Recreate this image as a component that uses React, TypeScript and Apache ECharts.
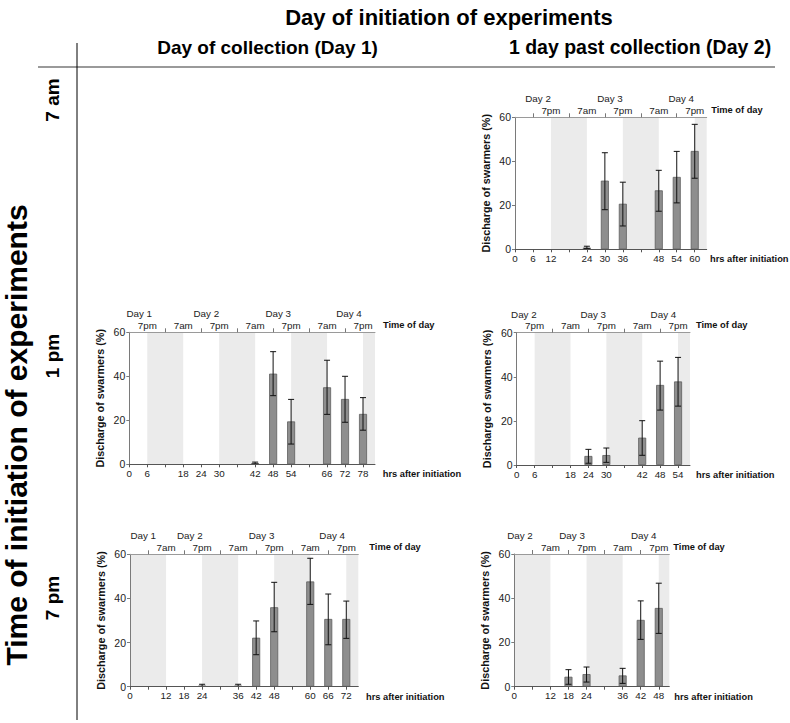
import React, { useEffect, useRef } from 'react';
import * as echarts from 'echarts';

// ---------- DATA ----------
// Panel A: 7 am, 1 day past collection (Day 2)
const hoursA = [0, 6, 12, 24, 30, 36, 48, 54, 60];
const meanA = [0, 0, 0, 0.8, 31.2, 20.7, 26.8, 32.9, 44.7];
const lowA = [0, 0, 0, 0.3, 18.0, 10.6, 17.3, 21.1, 32.3];
const highA = [0, 0, 0, 1.4, 43.9, 30.5, 35.9, 44.5, 56.8];
const nightsA = [[12, 24], [36, 48], [60, 64]];
const timeHoursA = [12, 24, 36, 48, 60];
const timeTextA = ['7pm', '7am', '7pm', '7am', '7pm'];
const dayHoursA = [7.7, 31.7, 55.5];
const dayTextA = ['Day 2', 'Day 3', 'Day 4'];
const topTicksA = [6, 18, 30, 42, 54];

// Panel B: 1 pm, Day of collection (Day 1)
const hoursB = [0, 6, 18, 24, 30, 42, 48, 54, 66, 72, 78];
const meanB = [0, 0, 0, 0, 0, 0.5, 41.2, 19.5, 35.0, 29.7, 22.9];
const lowB = [0, 0, 0, 0, 0, 0.1, 31.2, 9.2, 22.7, 19.1, 15.5];
const highB = [0, 0, 0, 0, 0, 1.0, 51.2, 29.5, 47.3, 40.0, 30.3];
const nightsB = [[6, 18], [30, 42], [54, 66], [78, 82]];
const timeHoursB = [6, 18, 30, 42, 54, 66, 78];
const timeTextB = ['7pm', '7am', '7pm', '7am', '7pm', '7am', '7pm'];
const dayHoursB = [3.3, 25.7, 49.7, 73.3];
const dayTextB = ['Day 1', 'Day 2', 'Day 3', 'Day 4'];
const topTicksB = [12, 24, 36, 48, 60, 72];

// Panel C: 1 pm, 1 day past collection (Day 2)
const hoursC = [0, 6, 18, 24, 30, 42, 48, 54];
const meanC = [0, 0, 0, 4.1, 4.5, 12.4, 36.3, 37.9];
const lowC = [0, 0, 0, 0.8, 1.2, 4.4, 24.9, 26.7];
const highC = [0, 0, 0, 7.1, 7.7, 20.1, 47.1, 48.8];
const nightsC = [[6, 18], [30, 42], [54, 58]];
const timeHoursC = [6, 18, 30, 42, 54];
const timeTextC = ['7pm', '7am', '7pm', '7am', '7pm'];
const dayHoursC = [2.4, 25.6, 49.1];
const dayTextC = ['Day 2', 'Day 3', 'Day 4'];
const topTicksC = [12, 24, 36, 48];

// Panel D: 7 pm, Day of collection (Day 1)
const hoursD = [0, 12, 18, 24, 36, 42, 48, 60, 66, 72];
const meanD = [0, 0, 0, 0.5, 0.5, 22.2, 36.0, 47.7, 30.7, 30.7];
const lowD = [0, 0, 0, 0.1, 0.1, 14.5, 24.9, 37.3, 19.0, 21.9];
const highD = [0, 0, 0, 1.1, 1.1, 29.8, 47.3, 58.2, 42.0, 38.8];
const nightsD = [[0, 12], [24, 36], [48, 60], [72, 76]];
const timeHoursD = [12, 24, 36, 48, 60, 72];
const timeTextD = ['7am', '7pm', '7am', '7pm', '7am', '7pm'];
const dayHoursD = [4.4, 19.9, 43.8, 67.3];
const dayTextD = ['Day 1', 'Day 2', 'Day 3', 'Day 4'];
const topTicksD = [6, 18, 30, 42, 54, 66];

// Panel E: 7 pm, 1 day past collection (Day 2)
const hoursE = [0, 12, 18, 24, 36, 42, 48];
const meanE = [0, 0, 4.5, 5.7, 5.1, 30.2, 35.6];
const lowE = [0, 0, 1.1, 2.1, 1.5, 21.4, 24.1];
const highE = [0, 0, 7.7, 8.9, 8.3, 38.8, 46.8];
const nightsE = [[0, 12], [24, 36], [48, 51.5]];
const timeHoursE = [12, 24, 36, 48];
const timeTextE = ['7am', '7pm', '7am', '7pm'];
const dayHoursE = [1.9, 19.2, 43];
const dayTextE = ['Day 2', 'Day 3', 'Day 4'];
const topTicksE = [6, 18, 30, 42];

const yTicks = [0, 20, 40, 60];

const PANELS = [
  { hours: hoursA, mean: meanA, low: lowA, high: highA, max: 64, nights: nightsA, timeHours: timeHoursA, timeText: timeTextA, dayHours: dayHoursA, dayText: dayTextA, topTicks: topTicksA },
  { hours: hoursB, mean: meanB, low: lowB, high: highB, max: 82, nights: nightsB, timeHours: timeHoursB, timeText: timeTextB, dayHours: dayHoursB, dayText: dayTextB, topTicks: topTicksB },
  { hours: hoursC, mean: meanC, low: lowC, high: highC, max: 58, nights: nightsC, timeHours: timeHoursC, timeText: timeTextC, dayHours: dayHoursC, dayText: dayTextC, topTicks: topTicksC },
  { hours: hoursD, mean: meanD, low: lowD, high: highD, max: 76, nights: nightsD, timeHours: timeHoursD, timeText: timeTextD, dayHours: dayHoursD, dayText: dayTextD, topTicks: topTicksD },
  { hours: hoursE, mean: meanE, low: lowE, high: highE, max: 51.5, nights: nightsE, timeHours: timeHoursE, timeText: timeTextE, dayHours: dayHoursE, dayText: dayTextE, topTicks: topTicksE },
];

// ---------- LAYOUT ----------
const LAYOUT = [
  { left: 515, top: 117.3, width: 191.7, height: 132, todGap: 4.5, hrsGap: 3.3 },
  { left: 129.3, top: 332.3, width: 245.7, height: 132, todGap: 8, hrsGap: 7.7 },
  { left: 516.7, top: 332.7, width: 173.3, height: 132.3, todGap: 6, hrsGap: 6 },
  { left: 130, top: 554.3, width: 228.3, height: 132.4, todGap: 11, hrsGap: 7.7 },
  { left: 514.3, top: 554, width: 155, height: 132.7, todGap: 4, hrsGap: 5 },
];

const SANS = "'Liberation Sans', Arial, Helvetica, sans-serif";
const TXT = '#222';
const TICK_FS = 9.8;
const BOLD_FS = 9.3;

function buildOption() {
  const grid: any[] = [];
  const xAxis: any[] = [];
  const yAxis: any[] = [];
  const series: any[] = [];
  const graphic: any[] = [];

  PANELS.forEach((p, i) => {
    const L = LAYOUT[i];
    grid.push({ left: L.left, top: L.top, width: L.width, height: L.height, containLabel: false });
    const sixes: number[] = [];
    for (let h = 0; h <= p.max; h += 6) sixes.push(h);

    // bottom axis
    xAxis.push({
      gridIndex: i, type: 'value', position: 'bottom', min: 0, max: p.max, z: 5,
      splitLine: { show: false },
      axisLine: { show: true, onZero: false, lineStyle: { color: '#555', width: 1 } },
      axisTick: { show: true, customValues: sixes, length: 3, lineStyle: { color: '#555' } },
      axisLabel: { customValues: p.hours, margin: 4, fontSize: TICK_FS, color: TXT, fontFamily: SANS },
    });
    // top axis: time of day
    xAxis.push({
      gridIndex: i, type: 'value', position: 'top', min: 0, max: p.max, z: 5,
      splitLine: { show: false },
      axisLine: { show: true, onZero: false, lineStyle: { color: '#9a9a9a', width: 1 } },
      axisTick: { show: true, customValues: p.topTicks, length: 4, lineStyle: { color: '#777' } },
      axisLabel: {
        customValues: p.timeHours, margin: 2, fontSize: TICK_FS, color: TXT, fontFamily: SANS,
        formatter: (v: number) => { const k = p.timeHours.indexOf(v); return k >= 0 ? p.timeText[k] : ''; },
      },
    });
    // top axis: day
    xAxis.push({
      gridIndex: i, type: 'value', position: 'top', offset: 11.5, min: 0, max: p.max,
      splitLine: { show: false },
      axisLine: { show: false },
      axisTick: { show: false },
      axisLabel: {
        customValues: p.dayHours, margin: 2, fontSize: TICK_FS, color: TXT, fontFamily: SANS,
        formatter: (v: number) => { const k = p.dayHours.indexOf(v); return k >= 0 ? p.dayText[k] : ''; },
      },
    });
    yAxis.push({
      gridIndex: i, type: 'value', min: 0, max: 60, interval: 20, z: 5,
      splitLine: { show: false },
      axisLine: { show: true, lineStyle: { color: '#7a7a7a' } },
      axisTick: { show: true, length: 3, lineStyle: { color: '#7a7a7a' } },
      axisLabel: { customValues: yTicks, margin: 4, fontSize: 10.5, color: TXT, fontFamily: SANS },
      name: 'Discharge of swarmers (%)', nameLocation: 'middle', nameGap: 24,
      nameTextStyle: { fontSize: 10.8, fontWeight: 'bold', color: '#111', fontFamily: SANS },
    });

    series.push({
      type: 'bar', xAxisIndex: i * 3, yAxisIndex: i, barWidth: 8, z: 3,
      data: p.hours.map((h, k) => ({
        value: [h, p.mean[k]],
        itemStyle: p.mean[k] > 0 ? undefined : { borderWidth: 0, opacity: 0 },
      })),
      itemStyle: { color: '#8e8e8e', borderColor: '#5e5e5e', borderWidth: 0.8 },
      markArea: {
        silent: true, z: 1,
        itemStyle: { color: '#ebebeb' },
        data: p.nights.map(([a, b]) => [{ xAxis: a }, { xAxis: b }]),
      },
    });
    const errData = p.hours.map((h, k) => [h, p.low[k], p.high[k], p.mean[k]]).filter((d) => d[3] > 0);
    series.push({
      type: 'custom', xAxisIndex: i * 3, yAxisIndex: i, z: 4,
      encode: { x: 0, y: [1, 2] },
      data: errData,
      renderItem: (params: any, api: any) => {
        const x = api.value(0);
        const lo = api.coord([x, api.value(1)]);
        const hi = api.coord([x, api.value(2)]);
        const cw = 3;
        const st = { stroke: '#111', lineWidth: 1 };
        return {
          type: 'group',
          children: [
            { type: 'line', shape: { x1: lo[0], y1: lo[1], x2: hi[0], y2: hi[1] }, style: st },
            { type: 'line', shape: { x1: hi[0] - cw, y1: hi[1], x2: hi[0] + cw, y2: hi[1] }, style: st },
            { type: 'line', shape: { x1: lo[0] - cw, y1: lo[1], x2: lo[0] + cw, y2: lo[1] }, style: st },
          ],
        };
      },
    });

    graphic.push({
      type: 'text', x: L.left + L.width + L.todGap, y: L.top - 7.5,
      style: { text: 'Time of day', align: 'left', verticalAlign: 'middle', fontSize: BOLD_FS, fontWeight: 'bold', fontFamily: SANS, fill: '#111' },
    });
    graphic.push({
      type: 'text', x: L.left + L.width + L.hrsGap, y: L.top + L.height + 10,
      style: { text: 'hrs after initiation', align: 'left', verticalAlign: 'middle', fontSize: BOLD_FS, fontWeight: 'bold', fontFamily: SANS, fill: '#111' },
    });
  });

  // headers and frame
  graphic.push(
    { type: 'text', x: 449, y: 17, style: { text: 'Day of initiation of experiments', align: 'center', verticalAlign: 'middle', fontSize: 22, fontWeight: 'bold', fontFamily: SANS, fill: '#000' } },
    { type: 'text', x: 267.5, y: 47, style: { text: 'Day of collection (Day 1)', align: 'center', verticalAlign: 'middle', fontSize: 19, fontWeight: 'bold', fontFamily: SANS, fill: '#000' } },
    { type: 'text', x: 640, y: 47, style: { text: '1 day past collection (Day 2)', align: 'center', verticalAlign: 'middle', fontSize: 19.5, fontWeight: 'bold', fontFamily: SANS, fill: '#000' } },
    { type: 'text', x: 16, y: 435, rotation: Math.PI / 2, style: { text: 'Time of initiation of experiments', align: 'center', verticalAlign: 'middle', fontSize: 30, fontWeight: 'bold', fontFamily: SANS, fill: '#000' } },
    { type: 'text', x: 52, y: 100, rotation: Math.PI / 2, style: { text: '7 am', align: 'center', verticalAlign: 'middle', fontSize: 19, fontWeight: 'bold', fontFamily: SANS, fill: '#000' } },
    { type: 'text', x: 52, y: 356, rotation: Math.PI / 2, style: { text: '1 pm', align: 'center', verticalAlign: 'middle', fontSize: 19, fontWeight: 'bold', fontFamily: SANS, fill: '#000' } },
    { type: 'text', x: 52, y: 598, rotation: Math.PI / 2, style: { text: '7 pm', align: 'center', verticalAlign: 'middle', fontSize: 19, fontWeight: 'bold', fontFamily: SANS, fill: '#000' } },
    { type: 'line', shape: { x1: 38, y1: 67, x2: 775, y2: 67 }, style: { stroke: '#9a9a9a', lineWidth: 2 } },
    { type: 'line', shape: { x1: 77, y1: 43, x2: 77, y2: 720 }, style: { stroke: '#000', lineWidth: 1 } },
  );

  return {
    animation: false,
    backgroundColor: '#fff',
    grid, xAxis, yAxis, series, graphic,
  };
}

export default function App() {
  const ref = useRef<HTMLDivElement>(null);
  useEffect(() => {
    if (!ref.current) return;
    const chart = echarts.init(ref.current, undefined, { renderer: 'svg' });
    chart.setOption(buildOption() as any);
    return () => chart.dispose();
  }, []);
  return <div ref={ref} style={{ position: 'absolute', left: 0, top: 0, width: 790, height: 723 }} />;
}
